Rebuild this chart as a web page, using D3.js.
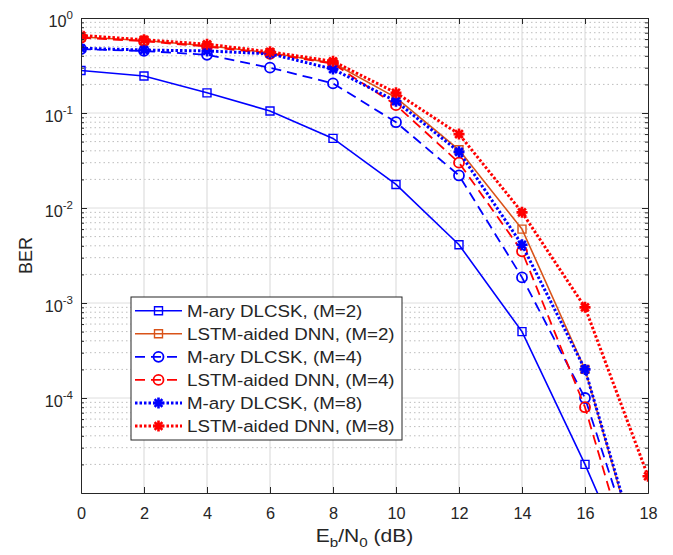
<!DOCTYPE html>
<html>
<head>
<meta charset="utf-8">
<script src="https://cdn.jsdelivr.net/npm/d3@7"></script>
<style>
  body { margin: 0; background: #fff; }
  text { font-family: "Liberation Sans", Arial, Helvetica, sans-serif; fill: #262626; }
</style>
</head>
<body>
<div id="svg"></div>
<script>
// Eb/N0 values (dB)
var snr = [0, 2, 4, 6, 8, 10, 12, 14, 16, 18];
// BER curves
var berDlcskM2 = [0.28, 0.245, 0.163, 0.105, 0.054, 0.0177, 0.0041, 5e-4, 2e-5, 6e-7];
var berLstmM2  = [0.63, 0.58, 0.51, 0.43, 0.335, 0.145, 0.041, 0.006, 2e-4, 1e-6];
var berDlcskM4 = [0.47, 0.45, 0.41, 0.30, 0.205, 0.08, 0.022, 0.00186, 1e-4, 9e-7];
var berLstmM4  = [0.62, 0.57, 0.50, 0.42, 0.33, 0.121, 0.030, 0.0035, 8e-5, 4.5e-7];
var berDlcskM8 = [0.48, 0.46, 0.45, 0.42, 0.29, 0.133, 0.039, 0.0041, 2e-4, 1.1e-6];
var berLstmM8  = [0.656, 0.59, 0.53, 0.44, 0.35, 0.163, 0.06, 0.009, 9e-4, 1.5e-5];

var seriesNames = ["M-ary DLCSK, (M=2)", "LSTM-aided DNN, (M=2)", "M-ary DLCSK, (M=4)",
                   "LSTM-aided DNN, (M=4)", "M-ary DLCSK, (M=8)", "LSTM-aided DNN, (M=8)"];
var xTicks = [0, 2, 4, 6, 8, 10, 12, 14, 16, 18];
var yDecades = [1, 1e-1, 1e-2, 1e-3, 1e-4];
var yExponents = ["0", "-1", "-2", "-3", "-4"];

var series = [
  {name: seriesNames[0], values: berDlcskM2, color: "#0000ff", width: 1.6, dash: null, marker: "square"},
  {name: seriesNames[1], values: berLstmM2, color: "#D95319", width: 1.6, dash: null, marker: "square"},
  {name: seriesNames[2], values: berDlcskM4, color: "#0000ff", width: 1.8, dash: "10,6", marker: "circle"},
  {name: seriesNames[3], values: berLstmM4, color: "#ff0000", width: 1.8, dash: "10,6", marker: "circle"},
  {name: seriesNames[4], values: berDlcskM8, color: "#0000ff", width: 3, dash: "2.5,2", marker: "star"},
  {name: seriesNames[5], values: berLstmM8, color: "#ff0000", width: 3, dash: "2.5,2", marker: "star"}
];

var W = 673, H = 555;
var box = {left: 81, right: 648, top: 18, bottom: 493};

var svg = d3.select("#svg").append("svg")
  .attr("width", W).attr("height", H)
  .style("background", "#fff");

var x = d3.scaleLinear().domain([0, 18]).range([box.left, box.right]);
var y = d3.scaleLog().domain([1e-5, 1]).range([box.bottom, box.top]);

// minor values 2..9 for each decade
var yMinor = [];
for (var e = -5; e < 0; e++) {
  for (var k = 2; k <= 9; k++) yMinor.push(k * Math.pow(10, e));
}

// grid
var grid = svg.append("g");
grid.selectAll(".minor").data(yMinor).enter().append("line")
  .attr("x1", box.left).attr("x2", box.right)
  .attr("y1", function(d) { return y(d); }).attr("y2", function(d) { return y(d); })
  .style("stroke", "#bdbdbd").style("stroke-width", 1).style("stroke-dasharray", "1.5,3");
grid.selectAll(".majory").data(yDecades.slice(1)).enter().append("line")
  .attr("x1", box.left).attr("x2", box.right)
  .attr("y1", function(d) { return y(d); }).attr("y2", function(d) { return y(d); })
  .style("stroke", "#dedede").style("stroke-width", 1);
grid.selectAll(".majorx").data(xTicks.slice(1, -1)).enter().append("line")
  .attr("y1", box.top).attr("y2", box.bottom)
  .attr("x1", function(d) { return x(d); }).attr("x2", function(d) { return x(d); })
  .style("stroke", "#dedede").style("stroke-width", 1.2);

// lines, clipped to the axes box
svg.append("clipPath").attr("id", "clip").append("rect")
  .attr("x", box.left).attr("y", box.top)
  .attr("width", box.right - box.left).attr("height", box.bottom - box.top);

var plot = svg.append("g").attr("clip-path", "url(#clip)");

var line = d3.line()
  .x(function(d) { return x(d[0]); })
  .y(function(d) { return y(d[1]); });

function starPath(r) {
  var p = "";
  for (var i = 0; i < 4; i++) {
    var a = i * Math.PI / 4;
    var dx = r * Math.cos(a), dy = r * Math.sin(a);
    p += "M" + (-dx) + "," + (-dy) + "L" + dx + "," + dy;
  }
  return p;
}

function drawMarker(g, s, cx, cy) {
  if (s.marker == "square") {
    g.append("path").attr("d", d3.symbol().type(d3.symbolSquare).size(64)())
      .attr("transform", "translate(" + cx + "," + cy + ")")
      .style("fill", "none").style("stroke", s.color).style("stroke-width", 1.4);
  } else if (s.marker == "circle") {
    g.append("circle").attr("cx", cx).attr("cy", cy).attr("r", 5)
      .style("fill", "none").style("stroke", s.color).style("stroke-width", 1.8);
  } else {
    g.append("path").attr("d", starPath(5.5))
      .attr("transform", "translate(" + cx + "," + cy + ")")
      .style("fill", "none").style("stroke", s.color).style("stroke-width", 2.6);
  }
}

series.forEach(function(s) {
  var pts = snr.map(function(v, i) { return [v, s.values[i]]; });
  plot.append("path")
    .attr("d", line(pts))
    .style("fill", "none")
    .style("stroke", s.color)
    .style("stroke-width", s.width)
    .style("stroke-dasharray", s.dash);
  pts.forEach(function(p) {
    if (p[1] >= 1e-5) drawMarker(plot, s, x(p[0]), y(p[1]));
  });
});

// axes
function styleAxis(g) {
  g.selectAll("path.domain").style("stroke", "#262626").style("stroke-width", 1);
  g.selectAll(".tick line").style("stroke", "#262626").style("stroke-width", 1);
  g.selectAll("text").style("font-family", "'Liberation Sans', Arial, sans-serif").style("fill", "#262626");
}

var xAxis = svg.append("g")
  .attr("transform", "translate(0," + box.bottom + ")")
  .call(d3.axisBottom(x).tickValues(xTicks).tickSizeInner(-6).tickSizeOuter(0).tickPadding(14));
xAxis.selectAll("text").style("font-size", "16.3px");
styleAxis(xAxis);

var xTop = svg.append("g")
  .attr("transform", "translate(0," + box.top + ")")
  .call(d3.axisTop(x).tickValues(xTicks).tickSizeInner(-6).tickSizeOuter(0).tickFormat(""));
styleAxis(xTop);

var yAxis = svg.append("g")
  .attr("transform", "translate(" + box.left + ",0)")
  .call(d3.axisLeft(y).tickValues(yDecades).tickSizeInner(-6).tickSizeOuter(0).tickPadding(8));
styleAxis(yAxis);
yAxis.selectAll(".tick text").each(function(d, i) {
  var t = d3.select(this);
  t.text(null).attr("dy", "0.55em").style("font-size", "16.3px");
  t.append("tspan").text("10");
  t.append("tspan").attr("dy", -8.5).style("font-size", "11.5px").text(yExponents[i]);
});
svg.append("g")
  .attr("transform", "translate(" + box.left + ",0)")
  .call(d3.axisLeft(y).tickValues(yMinor).tickSizeInner(-3).tickSizeOuter(0).tickFormat(""))
  .call(styleAxis);

var yRight = svg.append("g")
  .attr("transform", "translate(" + box.right + ",0)")
  .call(d3.axisRight(y).tickValues(yDecades).tickSizeInner(-6).tickSizeOuter(0).tickFormat(""));
styleAxis(yRight);
svg.append("g")
  .attr("transform", "translate(" + box.right + ",0)")
  .call(d3.axisRight(y).tickValues(yMinor).tickSizeInner(-3).tickSizeOuter(0).tickFormat(""))
  .call(styleAxis);

// axis labels
var xl = svg.append("text")
  .attr("transform", "translate(" + ((box.left + box.right) / 2) + ",542) scale(1.17,1)")
  .attr("text-anchor", "middle")
  .style("font-size", "18px");
xl.append("tspan").text("E");
xl.append("tspan").attr("dy", 5).style("font-size", "13px").text("b");
xl.append("tspan").attr("dy", -5).text("/N");
xl.append("tspan").attr("dy", 5).style("font-size", "13px").text("0");
xl.append("tspan").attr("dy", -5).text(" (dB)");

svg.append("text")
  .attr("transform", "translate(32," + ((box.top + box.bottom) / 2) + ") rotate(-90)")
  .attr("text-anchor", "middle")
  .style("font-size", "18px")
  .text("BER");

// legend
var leg = svg.append("g");
leg.append("rect")
  .attr("x", 131).attr("y", 297).attr("width", 271).attr("height", 143)
  .style("fill", "#fff").style("stroke", "#262626").style("stroke-width", 1);

series.forEach(function(s, i) {
  var cy = 310.7 + i * 23.06;
  leg.append("line")
    .attr("x1", 135).attr("x2", 182).attr("y1", cy).attr("y2", cy)
    .style("stroke", s.color).style("stroke-width", s.width)
    .style("stroke-dasharray", s.dash);
  drawMarker(leg, s, 158.5, cy);
  leg.append("text")
    .attr("transform", "translate(187," + (cy + 6) + ") scale(1.15,1)")
    .style("font-size", "16.3px")
    .text(s.name);
});
</script>
</body>
</html>
